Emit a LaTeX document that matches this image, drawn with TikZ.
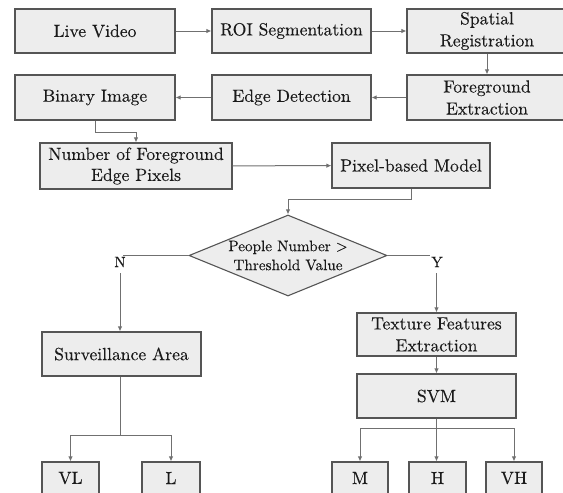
\documentclass[tikz,border=0pt]{standalone}
\usepackage{fontspec}
\newfontfamily\dfont{lmroman10-regular.otf}[FakeBold=0.2]
\usetikzlibrary{shapes.geometric,arrows.meta}
\definecolor{boxfill}{HTML}{EDEDED}
\definecolor{boxline}{HTML}{555555}
\definecolor{connc}{HTML}{707070}
\definecolor{txt}{HTML}{1A1A1A}
\begin{document}
\begin{tikzpicture}[x=1pt,y=-1pt,
  box/.style={draw=boxline, fill=boxfill, line width=1.1pt, inner sep=0pt, align=center, text=txt, font=\dfont\fontsize{17.6}{22}\selectfont},
  dia/.style={shape=diamond, draw=boxline, fill=boxfill, line width=1.1pt, inner sep=0pt},
  conn/.style={draw=connc, line width=1pt},
  arr/.style={conn, -{Latex[length=5pt,width=4.5pt]}},
  lbl/.style={text=txt, font=\dfont\fontsize{15.2}{19}\selectfont, inner sep=0pt, align=center}]
\useasboundingbox (0,0) rectangle (563,493);
\clip (0,0) rectangle (563,493);
% row 1
\node[box, minimum width=160pt, minimum height=44pt] (lv) at (95,31) {Live Video};
\node[box, minimum width=159pt, minimum height=44pt] (roi) at (291.5,31) {ROI Segmentation};
\node[box, minimum width=160pt, minimum height=44pt] (sr) at (487,31) {Spatial\\Registration};
% row 2
\node[box, minimum width=160pt, minimum height=45pt] (bi) at (95,97.5) {Binary Image};
\node[box, minimum width=159pt, minimum height=45pt] (ed) at (291.5,97.5) {Edge Detection};
\node[box, minimum width=160pt, minimum height=45pt] (fe) at (487,97.5) {Foreground\\Extraction};
% row 3
\node[box, minimum width=192pt, minimum height=46pt, font=\dfont\fontsize{17.6}{21}\selectfont] (nf) at (136,166) {Number of Foreground\\Edge Pixels};
\node[box, minimum width=158pt, minimum height=45pt] (pm) at (411,165.5) {Pixel-based Model};
% decision
\node[dia, minimum width=198pt, minimum height=81pt] (dm) at (288,255.5) {};
\node[lbl] (dmt) at (288,255.5) {People Number >\\Threshold Value};
\node[lbl] (nl) at (120,262) {N};
\node[lbl] (yl) at (437,262) {Y};
% lower
\node[box, minimum width=159pt, minimum height=44pt] (sa) at (121.5,354) {Surveillance Area};
\node[box, minimum width=159pt, minimum height=43pt] (tf) at (436.5,334.5) {Texture Features\\Extraction};
\node[box, minimum width=159pt, minimum height=44pt] (svm) at (436.5,396) {SVM};
\node[box, minimum width=57pt, minimum height=32pt] (vl) at (70.5,478) {VL};
\node[box, minimum width=58pt, minimum height=32pt] (ll) at (171,478) {L};
\node[box, minimum width=56pt, minimum height=32pt] (mm) at (360,478) {M};
\node[box, minimum width=57pt, minimum height=32pt] (hh) at (437.5,478) {H};
\node[box, minimum width=56pt, minimum height=32pt] (vh) at (514,478) {VH};
% coordinates
\coordinate (nA) at (123,255.5);
\coordinate (nB) at (120,273);
\coordinate (yA) at (430,255.5);
\coordinate (yB) at (436.5,273);
\coordinate (sab) at (120,435);
\coordinate (sb) at (436.5,428);
% connectors
\draw[arr] (lv) -- (roi);
\draw[arr] (roi) -- (sr);
\draw[arr] (sr) -- (fe);
\draw[arr] (fe) -- (ed);
\draw[arr] (ed) -- (bi);
\draw[arr] (bi.south) -- ++(0,12) -| (nf.north);
\draw[arr] (nf) -- (pm);
\draw[arr] (pm.south) -- ++(0,11) -| (dm.north);
\draw[conn] (dm.west) -- (nA);
\draw[arr] (nB) -- (nB |- sa.north);
\draw[conn] (dm.east) -- (yA);
\draw[arr] (yB) -- (tf.north);
\draw[arr] (tf) -- (svm);
\draw[conn] (svm.south) -- (sb);
\draw[arr] (sb) -| (mm.north);
\draw[arr] (sb) -- (hh.north -| sb);
\draw[arr] (sb) -| (vh.north);
\draw[conn] (sab |- sa.south) -- (sab);
\draw[arr] (sab) -| (vl.north);
\draw[arr] (sab) -| (ll.north);
\end{tikzpicture}
\end{document}
